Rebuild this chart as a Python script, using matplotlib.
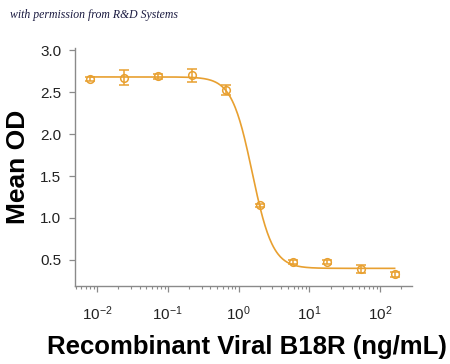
import numpy as np
import matplotlib
matplotlib.use("Agg")
import matplotlib.pyplot as plt
from matplotlib.ticker import LogLocator, FixedLocator

plt.rcParams["font.family"] = ["Liberation Sans", "DejaVu Sans"]
plt.rcParams["mathtext.default"] = "regular"

# data
conc = [0.0081, 0.0244, 0.0732, 0.22, 0.66, 1.98, 5.93, 17.8, 53.3, 160.0]
mean_od = [2.655, 2.67, 2.69, 2.70, 2.52, 1.15, 0.476, 0.476, 0.39, 0.33]
err = [0.02, 0.09, 0.03, 0.08, 0.06, 0.02, 0.02, 0.02, 0.05, 0.03]
# 4PL fit parameters (top, bottom, EC50, Hill)
fit_top, fit_bottom, fit_ec50, fit_hill = 2.68, 0.40, 1.56, 3.0
ytick_vals = [0.5, 1.0, 1.5, 2.0, 2.5, 3.0]
ytick_labels = ["0.5", "1.0", "1.5", "2.0", "2.5", "3.0"]
xtick_vals = [1e-2, 1e-1, 1e0, 1e1, 1e2]
xtick_labels = ["$10^{-2}$", "$10^{-1}$", "$10^{0}$", "$10^{1}$", "$10^{2}$"]

color = "#E8A030"
spine_c = "#8a8a8a"

fig = plt.figure(figsize=(4.5, 3.64), dpi=100)
ax = fig.add_axes([0.1667, 0.2143, 0.9156 - 0.1667, 0.868 - 0.2143])

xs = np.logspace(np.log10(conc[0]), np.log10(conc[-1]), 400)
ys = fit_bottom + (fit_top - fit_bottom) / (1 + (xs / fit_ec50) ** fit_hill)
ax.plot(xs, ys, color=color, lw=1.2)
ax.errorbar(conc, mean_od, yerr=err, fmt="o", mfc="none", mec=color, ecolor=color,
            ms=5.5, mew=1.1, elinewidth=1.1, capsize=3.5, capthick=1.1)

ax.set_xscale("log")
ax.set_xlim(10 ** -2.31, 10 ** 2.45)
ax.set_ylim(0.19, 3.024)

for s in ["top", "right"]:
    ax.spines[s].set_visible(False)
for s in ["left", "bottom"]:
    ax.spines[s].set_color(spine_c)
    ax.spines[s].set_linewidth(1.0)

ax.set_yticks(ytick_vals)
ax.set_yticklabels(ytick_labels, fontsize=11, color="#222222")
ax.xaxis.set_major_locator(FixedLocator(xtick_vals))
ax.set_xticklabels(xtick_labels, fontsize=11, color="#222222")
ax.xaxis.set_minor_locator(LogLocator(base=10, subs=np.arange(2, 10), numticks=20))
ax.tick_params(axis="both", which="major", direction="out", length=4, width=0.9, color=spine_c, pad=6)
ax.tick_params(axis="x", which="minor", direction="out", length=2.5, width=0.8, color=spine_c)
ax.tick_params(axis="x", which="major", pad=9)

ax.set_ylabel("Mean OD", fontsize=19, fontweight="bold")
ax.yaxis.set_label_coords(-0.135, 0.5)
ax.set_xlabel("Recombinant Viral B18R (ng/mL)", fontsize=18.5, fontweight="bold")
ax.xaxis.set_label_coords(0.51, -0.205)

fig.text(0.022, 0.95, "with permission from R&D Systems", fontsize=8.5, style="italic",
         family="Liberation Serif", color="#1a1a40")

fig.savefig("out.png", dpi=100)
